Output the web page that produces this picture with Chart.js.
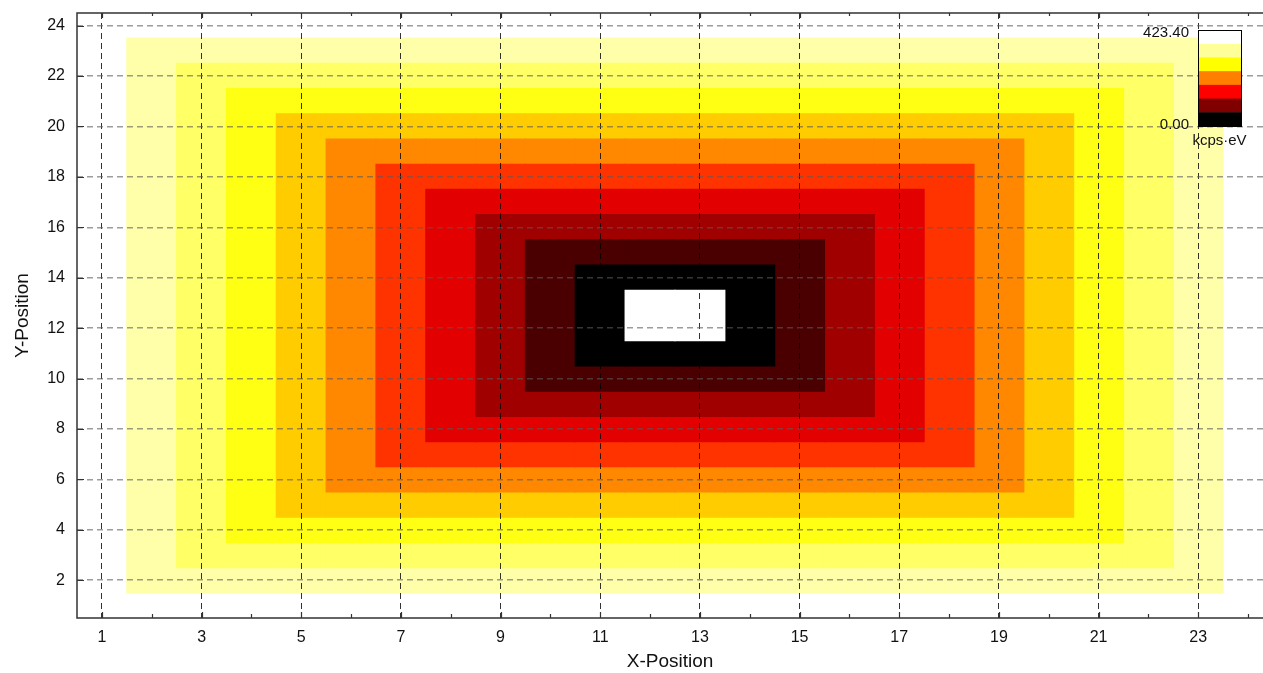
<!DOCTYPE html>
<html>
<head>
<meta charset="utf-8">
<script src="https://cdn.jsdelivr.net/npm/chart.js@4"></script>
<style>
  html, body { margin: 0; padding: 0; background: #fff; }
  #wrap { width: 1263px; height: 673px; position: relative; }
</style>
</head>
<body>
<div id="wrap"><canvas id="heat"></canvas></div>
<script>
  // rings of equal intensity, outermost first: first/last cell column and row
  const ringCols = [[2,23],[3,22],[4,21],[5,20],[6,19],[7,18],[8,17],[9,16],[10,15],[11,14],[12,13]];
  const ringRows = [[2,23],[3,22],[4,21],[5,20],[6,19],[7,18],[8,17],[9,16],[10,15],[11,14],[12,13]];
  const ringColors = ['#ffffaa','#ffff66','#ffff14','#ffcc00','#ff8800','#ff3300',
                      '#e30000','#a00000','#4a0000','#000000','#ffffff'];

  const xTicks = [1,3,5,7,9,11,13,15,17,19,21,23];
  const yTicks = [2,4,6,8,10,12,14,16,18,20,22,24];

  const scaleColors = ['#ffffff','#ffff99','#ffff00','#ff8000','#ff0000','#800000','#000000'];
  const scaleMax = '423.40';
  const scaleMin = '0.00';
  const scaleUnit = 'kcps·eV';

  const FONT = "'Liberation Sans', Arial, sans-serif";

  const datasets = ringCols.map((cols, k) => {
    const cells = [];
    for (let c = cols[0]; c <= cols[1]; c++) {
      cells.push({ x: c, y: [ringRows[k][0] - 0.5, ringRows[k][1] + 0.5] });
    }
    return {
      data: cells,
      backgroundColor: ringColors[k],
      borderWidth: 0,
      inflateAmount: 0.6,
      barPercentage: 1,
      categoryPercentage: 1,
      grouped: false,
      order: ringCols.length - k
    };
  });

  // frame, inward ticks and the colour key
  const frame = {
    id: 'frame',
    afterDraw(chart) {
      const { ctx, chartArea: a, scales: { x, y } } = chart;
      ctx.save();
      ctx.strokeStyle = '#333';
      ctx.lineWidth = 1.5;
      ctx.beginPath();
      ctx.moveTo(a.right, a.top); ctx.lineTo(a.left, a.top);
      ctx.lineTo(a.left, a.bottom); ctx.lineTo(a.right, a.bottom);
      ctx.stroke();

      ctx.lineWidth = 1.2;
      ctx.beginPath();
      for (let v = 1; v <= 24; v++) {
        const px = Math.round(x.getPixelForValue(v)) + 0.5;
        const len = v % 2 ? 6 : 4;
        ctx.moveTo(px, a.bottom); ctx.lineTo(px, a.bottom - len);
        ctx.moveTo(px, a.top); ctx.lineTo(px, a.top + len - 1);
      }
      yTicks.forEach(v => {
        const py = Math.round(y.getPixelForValue(v)) + 0.5;
        ctx.moveTo(a.left, py); ctx.lineTo(a.left + 7, py);
      });
      ctx.stroke();

      // colour key
      const kx = 1198, ky = 30, kw = 43, kh = 96;
      const band = kh / scaleColors.length;
      scaleColors.forEach((c, i) => {
        ctx.fillStyle = c;
        ctx.fillRect(kx, ky + i * band, kw, band + 0.5);
      });
      ctx.strokeStyle = '#000';
      ctx.lineWidth = 1;
      ctx.strokeRect(kx + 0.5, ky + 0.5, kw, kh);
      ctx.fillStyle = '#111';
      ctx.font = '15px ' + FONT;
      ctx.textAlign = 'right';
      ctx.textBaseline = 'middle';
      ctx.fillText(scaleMax, 1189, ky + 3);
      ctx.fillText(scaleMin, 1189, ky + kh - 1);
      ctx.textAlign = 'center';
      ctx.fillText(scaleUnit, kx + kw / 2, ky + kh + 15);
      ctx.restore();
    }
  };

  new Chart(document.getElementById('heat'), {
    type: 'bar',
    data: { datasets },
    options: {
      responsive: true,
      maintainAspectRatio: false,
      animation: false,
      layout: { padding: { top: 13, right: 0, left: 0, bottom: 0 } },
      plugins: { legend: { display: false }, tooltip: { enabled: false } },
      scales: {
        x: {
          type: 'linear',
          min: 0.5,
          max: 24.3,
          offset: false,
          afterBuildTicks: s => { s.ticks = xTicks.map(v => ({ value: v })); },
          afterFit: s => { s.height = 55; s.paddingLeft = 0; s.paddingRight = 0; },
          grid: { z: 1, offset: false, color: 'rgba(0,0,0,0.8)', lineWidth: 1, drawTicks: false },
          border: { display: false, dash: [6, 4] },
          ticks: { padding: 10, color: '#111', font: { family: FONT, size: 16 } },
          title: { display: true, text: 'X-Position', color: '#111', padding: { top: 0, bottom: 0 },
                   font: { family: FONT, size: 19 } }
        },
        y: {
          type: 'linear',
          min: 0.5,
          max: 24.5,
          afterBuildTicks: s => { s.ticks = yTicks.map(v => ({ value: v })); },
          afterFit: s => { s.width = 77; s.paddingTop = 0; s.paddingBottom = 0; },
          grid: { z: 1, color: 'rgba(90,90,90,0.6)', lineWidth: 1.5, drawTicks: false },
          border: { display: false, dash: [6, 4] },
          ticks: { padding: 12, color: '#111', font: { family: FONT, size: 16 } },
          title: { display: true, text: 'Y-Position', color: '#111', padding: { bottom: 0, top: 11 },
                   font: { family: FONT, size: 19 } }
        }
      }
    },
    plugins: [frame]
  });
</script>
</body>
</html>
